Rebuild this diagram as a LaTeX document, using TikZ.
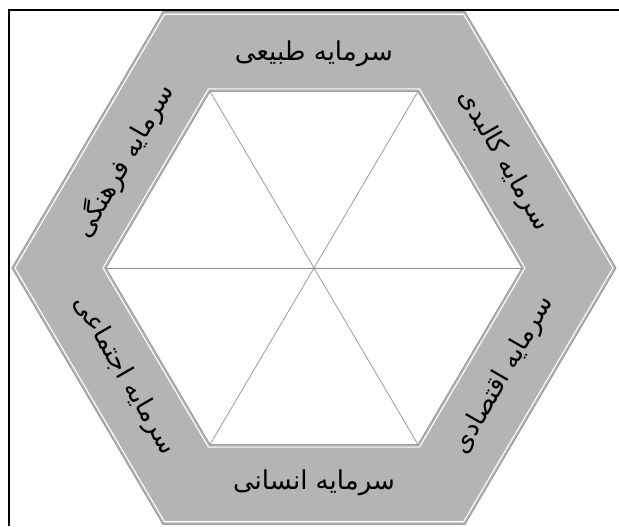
\documentclass[tikz,border=0pt]{standalone}
\usepackage{fontspec}
\newfontfamily\persianfont[Script=Arabic]{DejaVu Sans}
\TeXXeTstate=1
\usetikzlibrary{positioning}
\definecolor{BandGray}{HTML}{B4B4B4}
\definecolor{EdgeGray}{HTML}{9C9C9C}
\definecolor{SpokeGray}{HTML}{8E8E8E}

\begin{document}
\begin{tikzpicture}[
      x=0.75pt,y=0.735pt,
      band/.style={fill=BandGray,draw=EdgeGray,line width=0.7pt},
      core/.style={fill=white,draw=EdgeGray,line width=0.7pt},
      glint/.style={draw=white,line width=0.8pt},
      spoke/.style={draw=SpokeGray,line width=0.5pt},
      frame/.style={draw=black,line width=1.6pt},
      label/.style={font=\persianfont\fontsize{19.5}{23}\selectfont,inner sep=1pt},
    ]
    \useasboundingbox (-314,-263.27) rectangle (305,273.47);
    % Frame
    \draw[frame] (-305,-263.27) -- (-305,263.3) -- (305,263.3);
    % Hexagon corners
    \coordinate (c) at (0,0);
    \foreach \a [count=\i] in {0,60,...,300} {
      \coordinate (o\i) at (\a:302);
      \coordinate (w\i) at (\a:299);
      \coordinate (n\i) at (\a:208);
      \coordinate (m\i) at (\a:211);
    }
    % Band
    \draw[band] (o1) -- (o2) -- (o3) -- (o4) -- (o5) -- (o6) -- cycle;
    \draw[glint] (w1) -- (w2) -- (w3) -- (w4) -- (w5) -- (w6) -- cycle;
    \draw[glint] (m1) -- (m2) -- (m3) -- (m4) -- (m5) -- (m6) -- cycle;
    \draw[core] (n1) -- (n2) -- (n3) -- (n4) -- (n5) -- (n6) -- cycle;
    % Spokes
    \foreach \i in {1,...,6}
      \draw[spoke] (c) -- (n\i);
    % Labels
    \node[label] (natural)  at (90:219)  {\beginR سرمایه طبیعی\endR};
    \node[label,rotate=-60] (physical) at (30:219)  {\beginR سرمایه کالبدی\endR};
    \node[label,rotate=60]  (economic) at (-30:219) {\beginR سرمایه اقتصادی\endR};
    \node[label] (human)    at (-90:219) {\beginR سرمایه انسانی\endR};
    \node[label,rotate=-60] (social)   at (210:219) {\beginR سرمایه اجتماعی\endR};
    \node[label,rotate=60]  (cultural) at (150:219) {\beginR سرمایه فرهنگی\endR};
  \end{tikzpicture}
\end{document}
